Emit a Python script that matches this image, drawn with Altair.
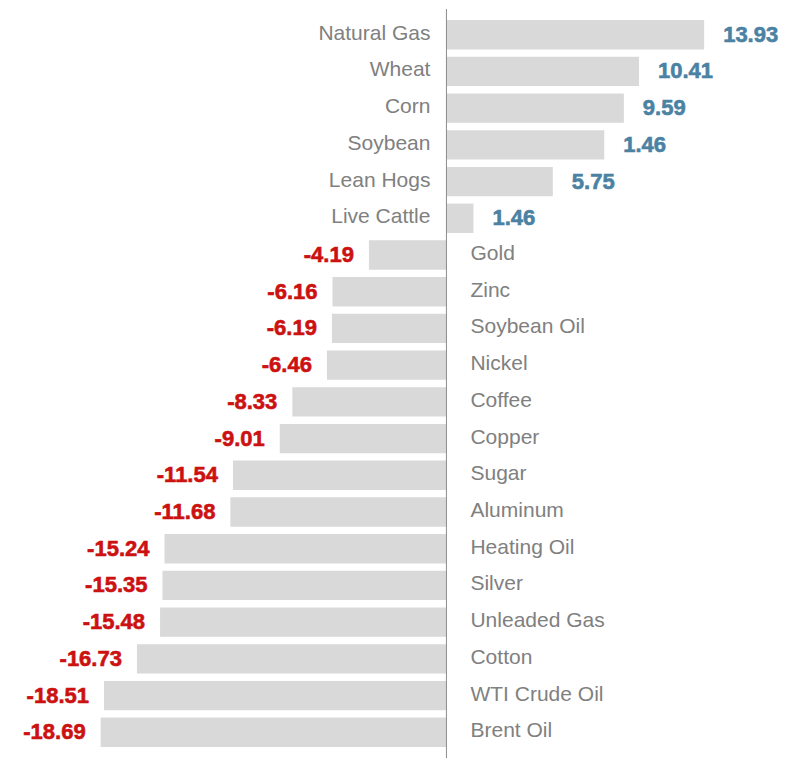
import altair as alt
import pandas as pd

names = ["Natural Gas", "Wheat", "Corn", "Soybean", "Lean Hogs", "Live Cattle",
         "Gold", "Zinc", "Soybean Oil", "Nickel", "Coffee", "Copper", "Sugar",
         "Aluminum", "Heating Oil", "Silver", "Unleaded Gas", "Cotton",
         "WTI Crude Oil", "Brent Oil"]
values = [13.93, 10.41, 9.59, 8.53, 5.75, 1.46,
          -4.19, -6.16, -6.19, -6.46, -8.33, -9.01, -11.54,
          -11.68, -15.24, -15.35, -15.48, -16.73, -18.51, -18.69]
labels = ["13.93", "10.41", "9.59", "1.46", "5.75", "1.46",
          "-4.19", "-6.16", "-6.19", "-6.46", "-8.33", "-9.01", "-11.54",
          "-11.68", "-15.24", "-15.35", "-15.48", "-16.73", "-18.51", "-18.69"]

df = pd.DataFrame({"name": names, "value": values, "label": labels})
df["zero"] = 0.0
zero_df = pd.DataFrame({"zero": [0.0]})

W, H = 772, 749
xscale = alt.Scale(domain=[-23.70, 18.03], nice=False, zero=False)
yenc = alt.Y("name:N", sort=names, axis=None,
             scale=alt.Scale(paddingInner=0.2, paddingOuter=0.3))
xval = alt.X("value:Q", scale=xscale, axis=None)
xzero = alt.X("zero:Q", scale=xscale, axis=None)

base = alt.Chart(df)

bars = base.mark_bar(color="#d9d9d9").encode(
    x=xval,
    x2="zero:Q",
    y=yenc,
)

rule = alt.Chart(zero_df).mark_rule(color="#8c8c8c", strokeWidth=1).encode(
    x=xzero,
    y=alt.value(0),
    y2=alt.value(H),
)

cat_style = dict(font="Liberation Sans", fontSize=21, color="#808080",
                 baseline="middle", dy=-1)

cat_pos = base.transform_filter("datum.value >= 0").mark_text(
    align="right", dx=-16, **cat_style
).encode(x=xzero, y=yenc, text="name:N")

cat_neg = base.transform_filter("datum.value < 0").mark_text(
    align="left", dx=24, **cat_style
).encode(x=xzero, y=yenc, text="name:N")

val_pos = base.transform_filter("datum.value >= 0").mark_text(
    align="left", dx=19, font="Liberation Sans", fontSize=22, fontWeight="bold",
    color="#4a82a3", stroke="#4a82a3", strokeWidth=0.6, baseline="middle"
).encode(x=xval, y=yenc, text="label:N")

val_neg = base.transform_filter("datum.value < 0").mark_text(
    align="right", dx=-15, font="Liberation Sans", fontSize=22, fontWeight="bold",
    color="#cc1111", stroke="#cc1111", strokeWidth=0.6, baseline="middle"
).encode(x=xval, y=yenc, text="label:N")

chart = alt.layer(bars, rule, cat_pos, cat_neg, val_pos, val_neg).properties(
    width=W, height=H, padding=0
).configure_view(stroke=None)

chart.save("out.html", embed_options={"renderer": "svg", "actions": False})
